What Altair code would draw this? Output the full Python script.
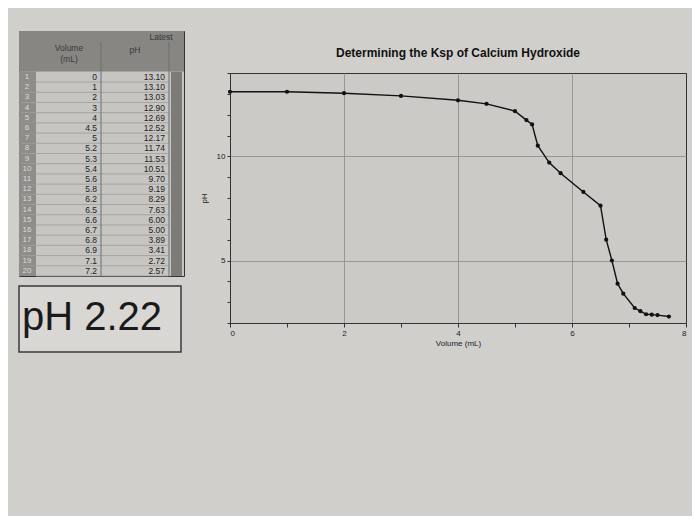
import altair as alt
import pandas as pd

# ---- data ----
volume_ml = [0, 1, 2, 3, 4, 4.5, 5, 5.2, 5.3, 5.4, 5.6, 5.8, 6.2, 6.5, 6.6, 6.7, 6.8, 6.9, 7.1, 7.2, 7.3, 7.4, 7.5, 7.7]
ph_values = [13.10, 13.10, 13.03, 12.90, 12.69, 12.52, 12.17, 11.74, 11.53, 10.51, 9.70, 9.19, 8.29, 7.63,
             6.00, 5.00, 3.89, 3.41, 2.72, 2.57, 2.42, 2.40, 2.38, 2.31]
table_rows = list(range(1, 21))
current_ph = 2.22
chart_title = "Determining the Ksp of Calcium Hydroxide"
x_ticks = [0, 1, 2, 3, 4, 5, 6, 7, 8]
y_ticks = [2, 3, 4, 5, 6, 7, 8, 9, 10, 11, 12, 13, 14]

FONT = "Liberation Sans"
NOVIEW = alt.ViewConfig(stroke="transparent", fill="transparent")

df = pd.DataFrame({"vol": volume_ml, "ph": ph_values})

# ---- table panel ----
tab = pd.DataFrame({
    "row": table_rows,
    "vol": [("%g" % v) for v in volume_ml[:20]],
    "ph": ["%.2f" % p for p in ph_values[:20]],
})
yscale = alt.Scale(domain=[20.5, -3.5], nice=False, zero=False)
base = alt.Chart(tab)

cells = base.mark_rect(color="#c6c5c1").transform_calculate(
    top="datum.row - 0.5", bot="datum.row + 0.5"
).encode(x=alt.value(17), x2=alt.value(165), y=alt.Y("top:Q", scale=yscale, axis=None), y2="bot:Q")
numcol = base.mark_rect(color="#8e8d8a").transform_calculate(
    top="datum.row - 0.5", bot="datum.row + 0.5"
).encode(x=alt.value(0), x2=alt.value(17), y=alt.Y("top:Q", scale=yscale, axis=None), y2="bot:Q")
hlines = base.mark_rule(color="#9d9c98", strokeWidth=0.8).transform_calculate(
    b="datum.row + 0.5").encode(y=alt.Y("b:Q", scale=yscale, axis=None), x=alt.value(17), x2=alt.value(150))
header = alt.Chart(pd.DataFrame({"a": [-3.5], "b": [0.5]})).mark_rect(color="#878683").encode(
    y=alt.Y("a:Q", scale=yscale, axis=None), y2="b:Q", x=alt.value(0), x2=alt.value(165))
vl = alt.Chart(pd.DataFrame({"a": [-2.4], "b": [20.5]})).mark_rule(color="#6f6e6b").encode(
    y=alt.Y("a:Q", scale=yscale, axis=None), y2="b:Q", x=alt.value(82))
vl2 = alt.Chart(pd.DataFrame({"a": [-2.4], "b": [20.5]})).mark_rule(color="#6f6e6b").encode(
    y=alt.Y("a:Q", scale=yscale, axis=None), y2="b:Q", x=alt.value(150))
scroll = alt.Chart(pd.DataFrame({"a": [0.5], "b": [20.5]})).mark_rect(color="#7c7b78").encode(
    y=alt.Y("a:Q", scale=yscale, axis=None), y2="b:Q", x=alt.value(152), x2=alt.value(163))
num_txt = base.mark_text(font=FONT, fontSize=8, color="#dddcd8").encode(
    y=alt.Y("row:Q", scale=yscale, axis=None), x=alt.value(8), text="row:N")
vol_txt = base.mark_text(font=FONT, fontSize=8.5, align="right", color="#222").encode(
    y=alt.Y("row:Q", scale=yscale, axis=None), x=alt.value(78), text="vol:N")
ph_txt = base.mark_text(font=FONT, fontSize=8.5, align="right", color="#222").encode(
    y=alt.Y("row:Q", scale=yscale, axis=None), x=alt.value(146), text="ph:N")
head_df = pd.DataFrame({
    "t": ["Latest", "Volume", "(mL)", "pH"],
    "y": [-2.9, -1.8, -0.8, -1.6],
    "x": [142, 50, 50, 116],
})
head_txt = alt.Chart(head_df).mark_text(font=FONT, fontSize=8.5, color="#3a3a38").encode(
    y=alt.Y("y:Q", scale=yscale, axis=None), x=alt.X("x:Q", scale=alt.Scale(domain=[0, 165]), axis=None),
    text="t:N")

table = alt.layer(header, cells, numcol, hlines, vl, vl2, scroll, num_txt, vol_txt, ph_txt, head_txt).properties(
    width=165, height=245)

# ---- pH reading box ----
bg = alt.Chart(pd.DataFrame({"a": [0]})).mark_rect(fill="#d8d7d4", stroke="#3a3a3a", strokeWidth=1.5).encode(
    x=alt.value(0), x2=alt.value(162), y=alt.value(0), y2=alt.value(66))
phtext = alt.Chart(pd.DataFrame({"t": ["pH %.2f" % current_ph]})).mark_text(
    font=FONT, fontSize=40, color="#1a1a1a", align="left", baseline="middle"
).encode(text="t:N", x=alt.value(3), y=alt.value(32))
phpanel = alt.layer(bg, phtext).properties(width=162, height=66, view=NOVIEW)

left = alt.vconcat(table, phpanel, spacing=7)

# ---- titration curve ----
title_chart = alt.Chart(pd.DataFrame({"t": [chart_title]})).mark_text(
    font=FONT, fontSize=12, fontWeight="bold", color="#111", align="center", baseline="middle"
).encode(text="t:N", x=alt.value(228), y=alt.value(22)).properties(width=456, height=40, view=NOVIEW)

xaxis = alt.Axis(values=x_ticks, title="Volume (mL)", titleFontSize=8, titleFont=FONT, titleFontWeight="normal",
                 labelFontSize=8, labelFont=FONT, labelExpr="datum.value % 2 == 0 ? datum.label : ''",
                 gridOpacity={"expr": "datum.value % 2 == 0 && datum.value > 0 && datum.value < 8 ? 1 : 0"},
                 gridColor="#8d8c89", gridWidth=0.8, tickColor="#333", tickSize=4, domainColor="#333",
                 titlePadding=2, labelPadding=2, labelColor="#222", titleColor="#222")
yaxis = alt.Axis(values=y_ticks, title="pH", titleFontSize=8, titleFont=FONT, titleFontWeight="normal",
                 labelFontSize=8, labelFont=FONT, labelExpr="datum.value % 5 == 0 ? datum.label : ''",
                 gridOpacity={"expr": "datum.value % 5 == 0 ? 1 : 0"},
                 gridColor="#8d8c89", gridWidth=0.8, tickColor="#333", tickSize=3, domainColor="#333",
                 titlePadding=8, labelPadding=2, labelColor="#222", titleColor="#222")

cb = alt.Chart(df).encode(
    x=alt.X("vol:Q", scale=alt.Scale(domain=[0, 8], nice=False), axis=xaxis),
    y=alt.Y("ph:Q", scale=alt.Scale(domain=[2, 14], nice=False, zero=False), axis=yaxis),
)
curve = alt.layer(
    cb.mark_line(color="#111", strokeWidth=1.4),
    cb.mark_circle(color="#111", size=18, opacity=1),
).properties(width=456, height=250)

right = alt.vconcat(title_chart, curve, spacing=0)

chart = alt.hconcat(left, right, spacing=14).properties(
    padding={"left": 9, "top": 22, "right": 5, "bottom": 162},
    background="#d0cfcc",
).configure_view(fill="#cbcac6", stroke="#333", strokeWidth=1)

chart.save("out.html", embed_options={"renderer": "svg", "actions": False})
